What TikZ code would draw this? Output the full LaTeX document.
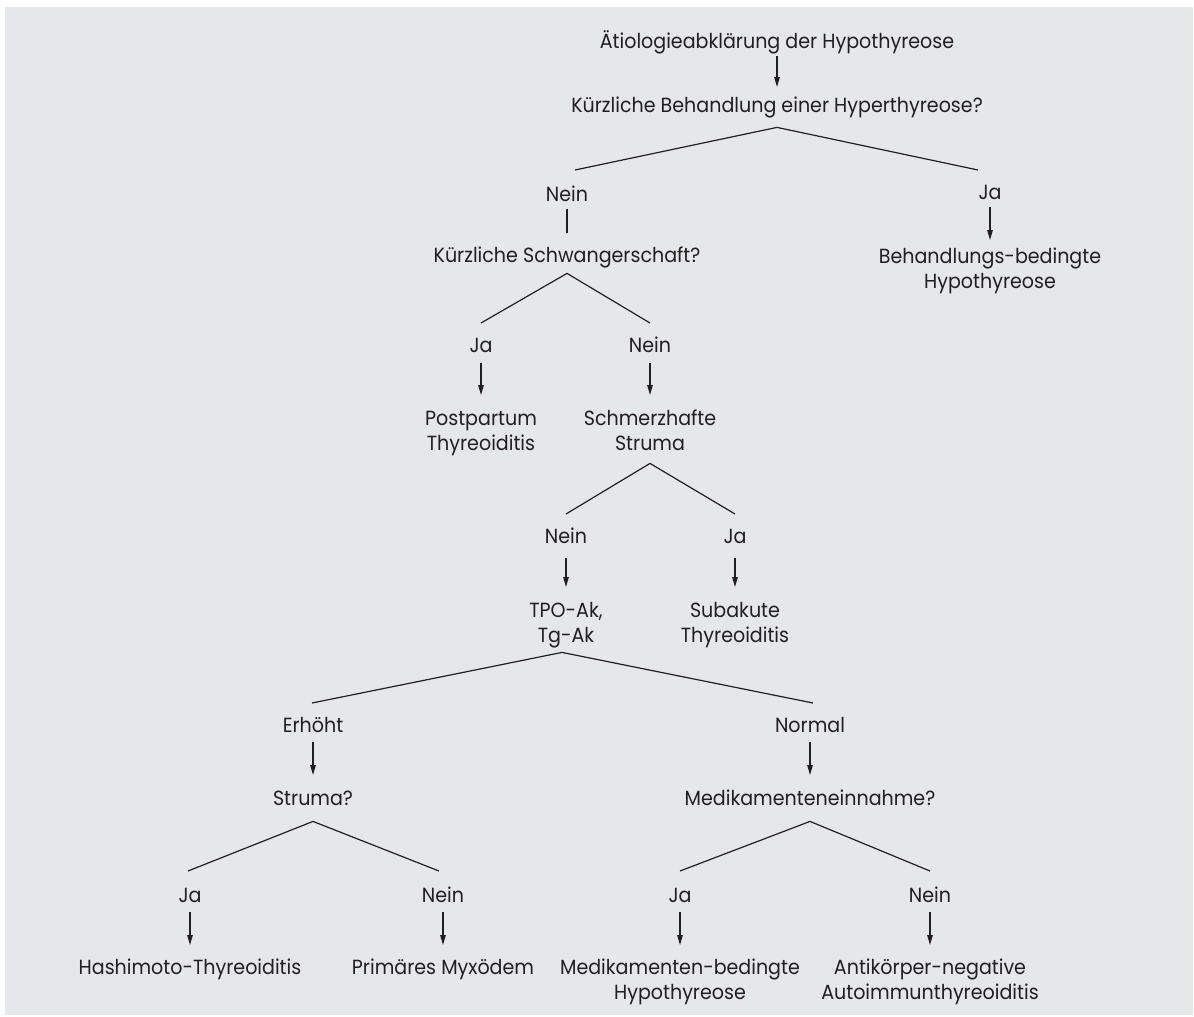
\documentclass[tikz,border=0pt]{standalone}
\usepackage{fontspec}
\setmainfont{Poppins}[FakeStretch=0.93]
\usetikzlibrary{arrows.meta}
\definecolor{bg}{HTML}{E6E7E9}
\definecolor{ink}{HTML}{231F20}
\newcommand{\twoline}[2]{\begin{tabular}[t]{@{}c@{}}#1\\#2\end{tabular}}
\newcommand{\lblfont}{\fontsize{20.5}{25}\selectfont}
\begin{document}
\begin{tikzpicture}[x=1pt,y=-1pt,
  lbl/.style={inner sep=0pt, anchor=north, text height=15pt, text depth=0pt, font=\lblfont, text=ink},
  lbl2/.style={lbl, text depth=25pt},
  arr/.style={draw=ink, line width=1.2pt, -{Triangle[length=10pt,width=5.5pt]}},
  ln/.style={draw=ink, line width=1.2pt}]
\useasboundingbox (0,0) rectangle (1194,1017);
\fill[bg] (5,7) rectangle (1193,1015);
% nodes
\node[lbl] (A) at (777,33) {Ätiologieabklärung der Hypothyreose};
\node[lbl] (B) at (777,97) {Kürzliche Behandlung einer Hyperthyreose?};
\node[lbl] (C) at (567,186) {Nein};
\node[lbl] (Cj) at (990,184) {Ja};
\node[lbl2] (Cr) at (990,248) {\twoline{Behandlungs-bedingte}{Hypothyreose}};
\node[lbl] (D) at (567,247) {Kürzliche Schwangerschaft?};
\node[lbl] (E) at (481,337) {Ja};
\node[lbl] (F) at (650,337) {Nein};
\node[lbl2] (G) at (481,410) {\twoline{Postpartum}{Thyreoiditis}};
\node[lbl2] (H) at (650,410) {\twoline{Schmerzhafte}{Struma}};
\node[lbl] (I) at (566,528) {Nein};
\node[lbl] (J) at (735,528) {Ja};
\node[lbl2] (K) at (566,602) {\twoline{TPO-Ak,}{Tg-Ak}};
\node[lbl2] (L) at (735,602) {\twoline{Subakute}{Thyreoiditis}};
\node[lbl] (M) at (313,717) {Erhöht};
\node[lbl] (N) at (810,717) {Normal};
\node[lbl] (O) at (313,790) {Struma?};
\node[lbl] (P) at (810,790) {Medikamenteneinnahme?};
\node[lbl] (Q) at (190,887) {Ja};
\node[lbl] (R) at (443,887) {Nein};
\node[lbl] (S) at (680,887) {Ja};
\node[lbl] (T) at (930,887) {Nein};
\node[lbl] (U) at (190,959) {Hashimoto-Thyreoiditis};
\node[lbl] (V) at (443,959) {Primäres Myxödem};
\node[lbl2] (W) at (680,959) {\twoline{Medikamenten-bedingte}{Hypothyreose}};
\node[lbl2] (X) at (930,959) {\twoline{Antikörper-negative}{Autoimmunthyreoiditis}};
% connectors
\draw[arr] ([yshift=-8pt]A.south) -- ([yshift=10pt]B.north);
\draw[ln] ([xshift=8pt,yshift=16pt]C.north) -- ([yshift=-15pt]B.south) -- ([xshift=-12pt,yshift=14pt]Cj.north);
\draw[arr] ([yshift=-8pt]Cj.south) -- ([yshift=8pt]Cr.north);
\draw[ln] ([yshift=-8pt]C.south) -- ([yshift=14pt]D.north);
\draw[ln] ([yshift=14pt]E.north) -- ([yshift=-11pt]D.south) -- ([yshift=14pt]F.north);
\draw[arr] ([yshift=-11pt]E.south) -- ([yshift=15pt]G.north);
\draw[arr] ([yshift=-11pt]F.south) -- ([yshift=15pt]H.north);
\draw[ln] ([yshift=14pt]I.north) -- ([yshift=-13pt]H.south) -- ([yshift=14pt]J.north);
\draw[arr] ([yshift=-15pt]I.south) -- ([yshift=15pt]K.north);
\draw[arr] ([yshift=-15pt]J.south) -- ([yshift=15pt]L.north);
\draw[ln] ([xshift=-1pt,yshift=14pt]M.north) -- ([xshift=-4pt,yshift=-10pt]K.south) -- ([xshift=3pt,yshift=14pt]N.north);
\draw[arr] ([yshift=-10pt]M.south) -- ([yshift=15pt]O.north);
\draw[arr] ([yshift=-10pt]N.south) -- ([yshift=15pt]P.north);
\draw[ln] ([xshift=-2pt,yshift=16pt]Q.north) -- ([yshift=-16pt]O.south) -- ([xshift=-4pt,yshift=16pt]R.north);
\draw[ln] ([yshift=16pt]S.north) -- ([yshift=-16pt]P.south) -- ([yshift=16pt]T.north);
\draw[arr] ([yshift=-10pt]Q.south) -- ([yshift=14pt]U.north);
\draw[arr] ([yshift=-10pt]R.south) -- ([yshift=14pt]V.north);
\draw[arr] ([yshift=-10pt]S.south) -- ([yshift=14pt]W.north);
\draw[arr] ([yshift=-10pt]T.south) -- ([yshift=14pt]X.north);
\end{tikzpicture}
\end{document}
